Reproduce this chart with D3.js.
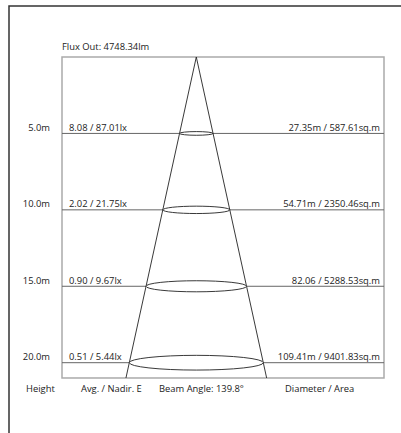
<!DOCTYPE html>
<html>
<head>
<meta charset="utf-8">
<script src="https://cdn.jsdelivr.net/npm/d3@7"></script>
<style>
  body { margin: 0; background: #fff; }
  text { font-family: "Open Sans", "Noto Sans", sans-serif; font-size: 9.4px; fill: #222; }
</style>
</head>
<body>
<script>
// data
var heights = [5, 10, 15, 20];
var avgLux = ["8.08", "2.02", "0.90", "0.51"];
var nadirLux = ["87.01", "21.75", "9.67", "5.44"];
var diameters = ["27.35m", "54.71m", "82.06", "109.41m"];
var diameterValues = [27.35, 54.71, 82.06, 109.41];
var areas = ["587.61", "2350.46", "5288.53", "9401.83"];
var fluxOut = "4748.34";
var beamAngle = "139.8";

var width = 401, height = 433;

var svg = d3.select("body").append("svg")
    .attr("width", width)
    .attr("height", height);

// outer frame (runs off the right / bottom of the picture)
svg.append("rect")
    .attr("x", 9).attr("y", 6)
    .attr("width", 420).attr("height", 460)
    .attr("fill", "none")
    .attr("stroke", "#333")
    .attr("stroke-width", 1.5);

// box dimensions
var box = { left: 62, right: 384, top: 57 };

// y: distance in metres
var y = d3.scaleLinear().domain([0, 20]).range([box.top, 362.7]);
var maxDist = 21;
var boxBottom = y(maxDist);

// x: horizontal metres from the beam centre (schematic)
var cx = 196.3;
var x = d3.scaleLinear().domain([0, 54.705]).range([cx, cx + 67]);

// box
svg.append("rect")
    .attr("x", box.left).attr("y", box.top)
    .attr("width", box.right - box.left)
    .attr("height", boxBottom - box.top)
    .attr("fill", "none")
    .attr("stroke", "#aaa")
    .attr("stroke-width", 1.5);

// distance lines
svg.selectAll(".dist")
    .data(heights)
    .enter().append("line")
    .attr("class", "dist")
    .attr("x1", box.left).attr("x2", box.right)
    .attr("y1", function (d) { return y(d); })
    .attr("y2", function (d) { return y(d); })
    .attr("stroke", "#666")
    .attr("stroke-width", 1);

// cone edges
var rMax = diameterValues[3] / 2 * maxDist / heights[3];
[-1, 1].forEach(function (s) {
    svg.append("line")
        .attr("x1", x(0)).attr("y1", y(0))
        .attr("x2", x(0) + s * (x(rMax) - x(0))).attr("y2", boxBottom)
        .attr("stroke", "#222")
        .attr("stroke-width", 0.9);
});

// beam ellipses
svg.selectAll(".spot")
    .data(heights)
    .enter().append("ellipse")
    .attr("class", "spot")
    .attr("cx", x(0))
    .attr("cy", function (d) { return y(d); })
    .attr("rx", function (d, i) { return x(diameterValues[i] / 2) - x(0); })
    .attr("ry", function (d, i) { return (x(diameterValues[i] / 2) - x(0)) * 0.11; })
    .attr("fill", "#fff")
    .attr("stroke", "#222")
    .attr("stroke-width", 0.9);

// labels per row
var rows = svg.selectAll(".row")
    .data(heights)
    .enter().append("g")
    .attr("class", "row")
    .attr("transform", function (d) { return "translate(0," + (y(d) - 2.5) + ")"; });

rows.append("text")
    .attr("x", 50)
    .attr("text-anchor", "end")
    .text(function (d) { return d.toFixed(1) + "m"; });

rows.append("text")
    .attr("x", 69)
    .text(function (d, i) { return avgLux[i] + " / " + nadirLux[i] + "lx"; });

rows.append("text")
    .attr("x", 380)
    .attr("text-anchor", "end")
    .text(function (d, i) { return diameters[i] + " / " + areas[i] + "sq.m"; });

// header and footer
svg.append("text")
    .attr("x", 62).attr("y", 50)
    .text("Flux Out: " + fluxOut + "lm");

var footer = [
    { x: 26, t: "Height" },
    { x: 81, t: "Avg. / Nadir. E" },
    { x: 159, t: "Beam Angle: " + beamAngle + "°" },
    { x: 285, t: "Diameter / Area" }
];
svg.selectAll(".foot")
    .data(footer)
    .enter().append("text")
    .attr("class", "foot")
    .attr("x", function (d) { return d.x; })
    .attr("y", 392)
    .text(function (d) { return d.t; });
</script>
</body>
</html>
